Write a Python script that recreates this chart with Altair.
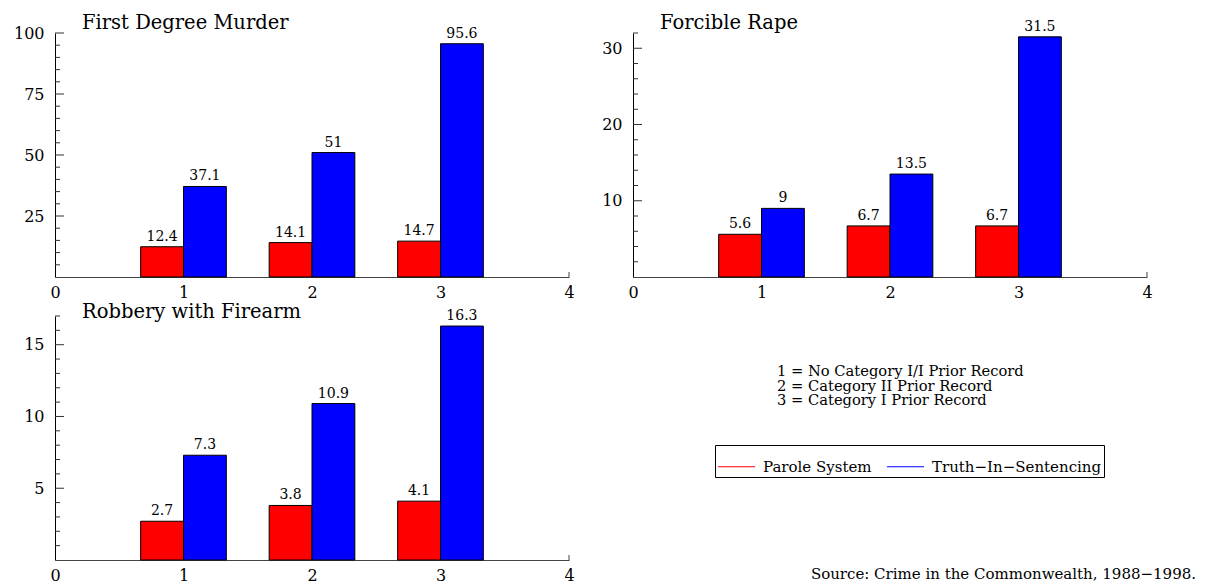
import altair as alt
import pandas as pd

FONT = "DejaVu Serif"

categories = [1, 2, 3]
series = ["Parole System", "Truth\u2212In\u2212Sentencing"]
series_colors = ["#ff0000", "#0000ff"]
x_ticks = [0, 1, 2, 3, 4]

murder_title = "First Degree Murder"
murder_parole = [12.4, 14.1, 14.7]
murder_tis = [37.1, 51, 95.6]
murder_ymax = 100
murder_major = [25, 50, 75, 100]
murder_minor = [5, 10, 15, 20, 30, 35, 40, 45, 55, 60, 65, 70, 80, 85, 90, 95]

rape_title = "Forcible Rape"
rape_parole = [5.6, 6.7, 6.7]
rape_tis = [9, 13.5, 31.5]
rape_ymax = 32
rape_major = [10, 20, 30]
rape_minor = [2, 4, 6, 8, 12, 14, 16, 18, 22, 24, 26, 28, 32]

robbery_title = "Robbery with Firearm"
robbery_parole = [2.7, 3.8, 4.1]
robbery_tis = [7.3, 10.9, 16.3]
robbery_ymax = 17
robbery_major = [5, 10, 15]
robbery_minor = [1, 2, 3, 4, 6, 7, 8, 9, 11, 12, 13, 14, 16, 17]

note_lines = [
    "1 = No Category I/I Prior Record",
    "2 = Category II Prior Record",
    "3 = Category I Prior Record",
]
source_text = "Source: Crime in the Commonwealth, 1988\u22121998."

W, H = 514, 244
color_scale = alt.Scale(domain=series, range=series_colors)


def panel(title, parole, tis, ymax, major, minor, title_y):
    n = len(categories)
    df = pd.DataFrame({
        "cat": categories * 2,
        "series": [series[0]] * n + [series[1]] * n,
        "fillcolor": [series_colors[0]] * n + [series_colors[1]] * n,
        "value": parole + tis,
        "label": [f"{v:g}" for v in parole + tis],
    })
    xscale = alt.Scale(domain=[0, 4], nice=False, zero=False)
    yscale = alt.Scale(domain=[0, ymax], nice=False, zero=True)
    base = alt.Chart(df).transform_calculate(
        x0=f"datum.cat + (datum.series == '{series[0]}' ? -1/3 : 0)",
    ).transform_calculate(
        x1="datum.x0 + 1/3", xm="datum.x0 + 1/6"
    )
    bars = base.mark_bar(stroke="black", strokeWidth=1).encode(
        x=alt.X("x0:Q", scale=xscale,
                axis=alt.Axis(values=x_ticks, format="d", title=None, grid=False,
                              tickSize=0, labelPadding=7, domainColor="#444444",
                              labelFlush=False)),
        x2="x1:Q",
        y=alt.Y("value:Q", scale=yscale,
                axis=alt.Axis(values=major, title=None, grid=False, tickSize=0,
                              labelPadding=11, domainColor="black")),
        y2=alt.datum(0),
        fill=alt.Fill("fillcolor:N", scale=None),
    )
    labels = base.mark_text(font=FONT, fontSize=14, baseline="alphabetic",
                            dy=-6, color="black").encode(
        x=alt.X("xm:Q", scale=xscale),
        y=alt.Y("value:Q", scale=yscale),
        text="label:N",
    )
    minor_ticks = alt.Chart(pd.DataFrame({"v": minor})).mark_rule(
        color="#333333", strokeWidth=1).encode(
        y=alt.Y("v:Q", scale=yscale), x=alt.value(0), x2=alt.value(5))
    major_ticks = alt.Chart(pd.DataFrame({"v": major})).mark_rule(
        color="#333333", strokeWidth=1).encode(
        y=alt.Y("v:Q", scale=yscale), x=alt.value(0), x2=alt.value(9))
    end_tick = alt.Chart(pd.DataFrame({"t": [x_ticks[-1]]})).mark_rule(
        color="#444444", strokeWidth=1).encode(
        x=alt.X("t:Q", scale=xscale), y=alt.value(H), y2=alt.value(H - 5))
    heading = alt.Chart(pd.DataFrame({"t": [title]})).mark_text(
        font=FONT, fontSize=19.5, align="left", baseline="alphabetic",
        color="black").encode(x=alt.value(27), y=alt.value(title_y), text="t:N")
    return alt.layer(bars, labels, minor_ticks, major_ticks, end_tick,
                     heading).properties(width=W, height=H)


p1 = panel(murder_title, murder_parole, murder_tis, murder_ymax, murder_major, murder_minor, -4)
p2 = panel(rape_title, rape_parole, rape_tis, rape_ymax, rape_major, rape_minor, -4)
p3 = panel(robbery_title, robbery_parole, robbery_tis, robbery_ymax, robbery_major, robbery_minor, 2)

note_src = alt.Chart(pd.DataFrame({"a": [0]}))
notes = note_src.mark_text(font=FONT, fontSize=14.7, align="left", baseline="top",
                           lineHeight=14.7, color="black").encode(
    x=alt.value(144), y=alt.value(48), text=alt.value(note_lines))
source = note_src.mark_text(font=FONT, fontSize=15, align="right",
                            baseline="alphabetic", color="black").encode(
    x=alt.value(W + 49), y=alt.value(H + 19), text=alt.value(source_text))
# one point per series: draws no line, only feeds the line-style legend
key = alt.Chart(pd.DataFrame({"series": series})).mark_line(strokeWidth=1.2).encode(
    x=alt.value(0), y=alt.value(0),
    stroke=alt.Stroke("series:N", scale=color_scale,
                      legend=alt.Legend(title=None, symbolType="stroke",
                                        direction="horizontal")),
)
p4 = alt.layer(notes, source, key).properties(width=W, height=H)

chart = alt.concat(p1, p2, p3, p4, columns=2, spacing={"row": 39, "column": 64},
                   bounds="flush").properties(
    padding={"left": 5, "top": 5, "right": 0, "bottom": 0}
).configure_view(stroke=None).configure_axis(
    labelFont=FONT, labelFontSize=16, labelColor="black"
).configure_legend(
    orient="none", legendX=660, legendY=412,
    strokeColor="black", padding=2, labelFont=FONT, labelFontSize=15,
    labelColor="black", labelLimit=400, symbolSize=1369,
    symbolStrokeWidth=1.2, labelOffset=7, columnPadding=12,
)

chart.save("out.html", embed_options={"renderer": "svg", "actions": False})
